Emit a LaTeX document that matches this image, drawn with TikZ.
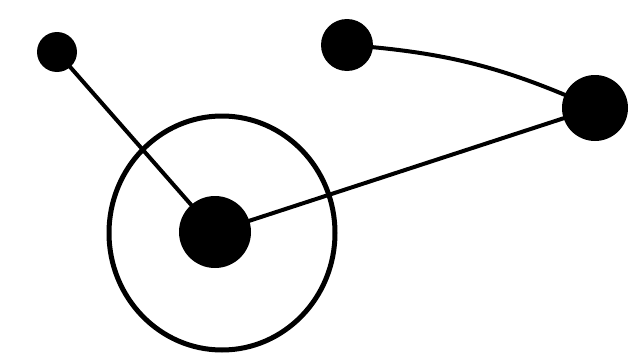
\documentclass[tikz,border=0pt]{standalone}
\usetikzlibrary{shapes.geometric}
\begin{document}
\begin{tikzpicture}[x=1pt,y=-1pt,
  dot/.style={circle,fill=black,inner sep=0pt},
  edge/.style={line width=4pt,line cap=round},
  ring/.style={ellipse,draw=black,line width=5pt,inner sep=0pt,minimum width=226pt,minimum height=234pt}]
\useasboundingbox (0,0) rectangle (641,359);
\node[ring] (R) at (222,233) {};
\node[dot,minimum size=40pt] (A) at (57,52) {};
\node[dot,minimum size=52pt] (B) at (347,45) {};
\node[dot,minimum size=66pt] (C) at (595,108) {};
\node[dot,minimum size=72pt] (D) at (215,232) {};
\draw[edge] (A.center) -- (D.center);
\draw[edge] (D.center) -- (C.center);
\draw[edge] (B.center) to[bend left=10] (C.center);
\end{tikzpicture}
\end{document}
